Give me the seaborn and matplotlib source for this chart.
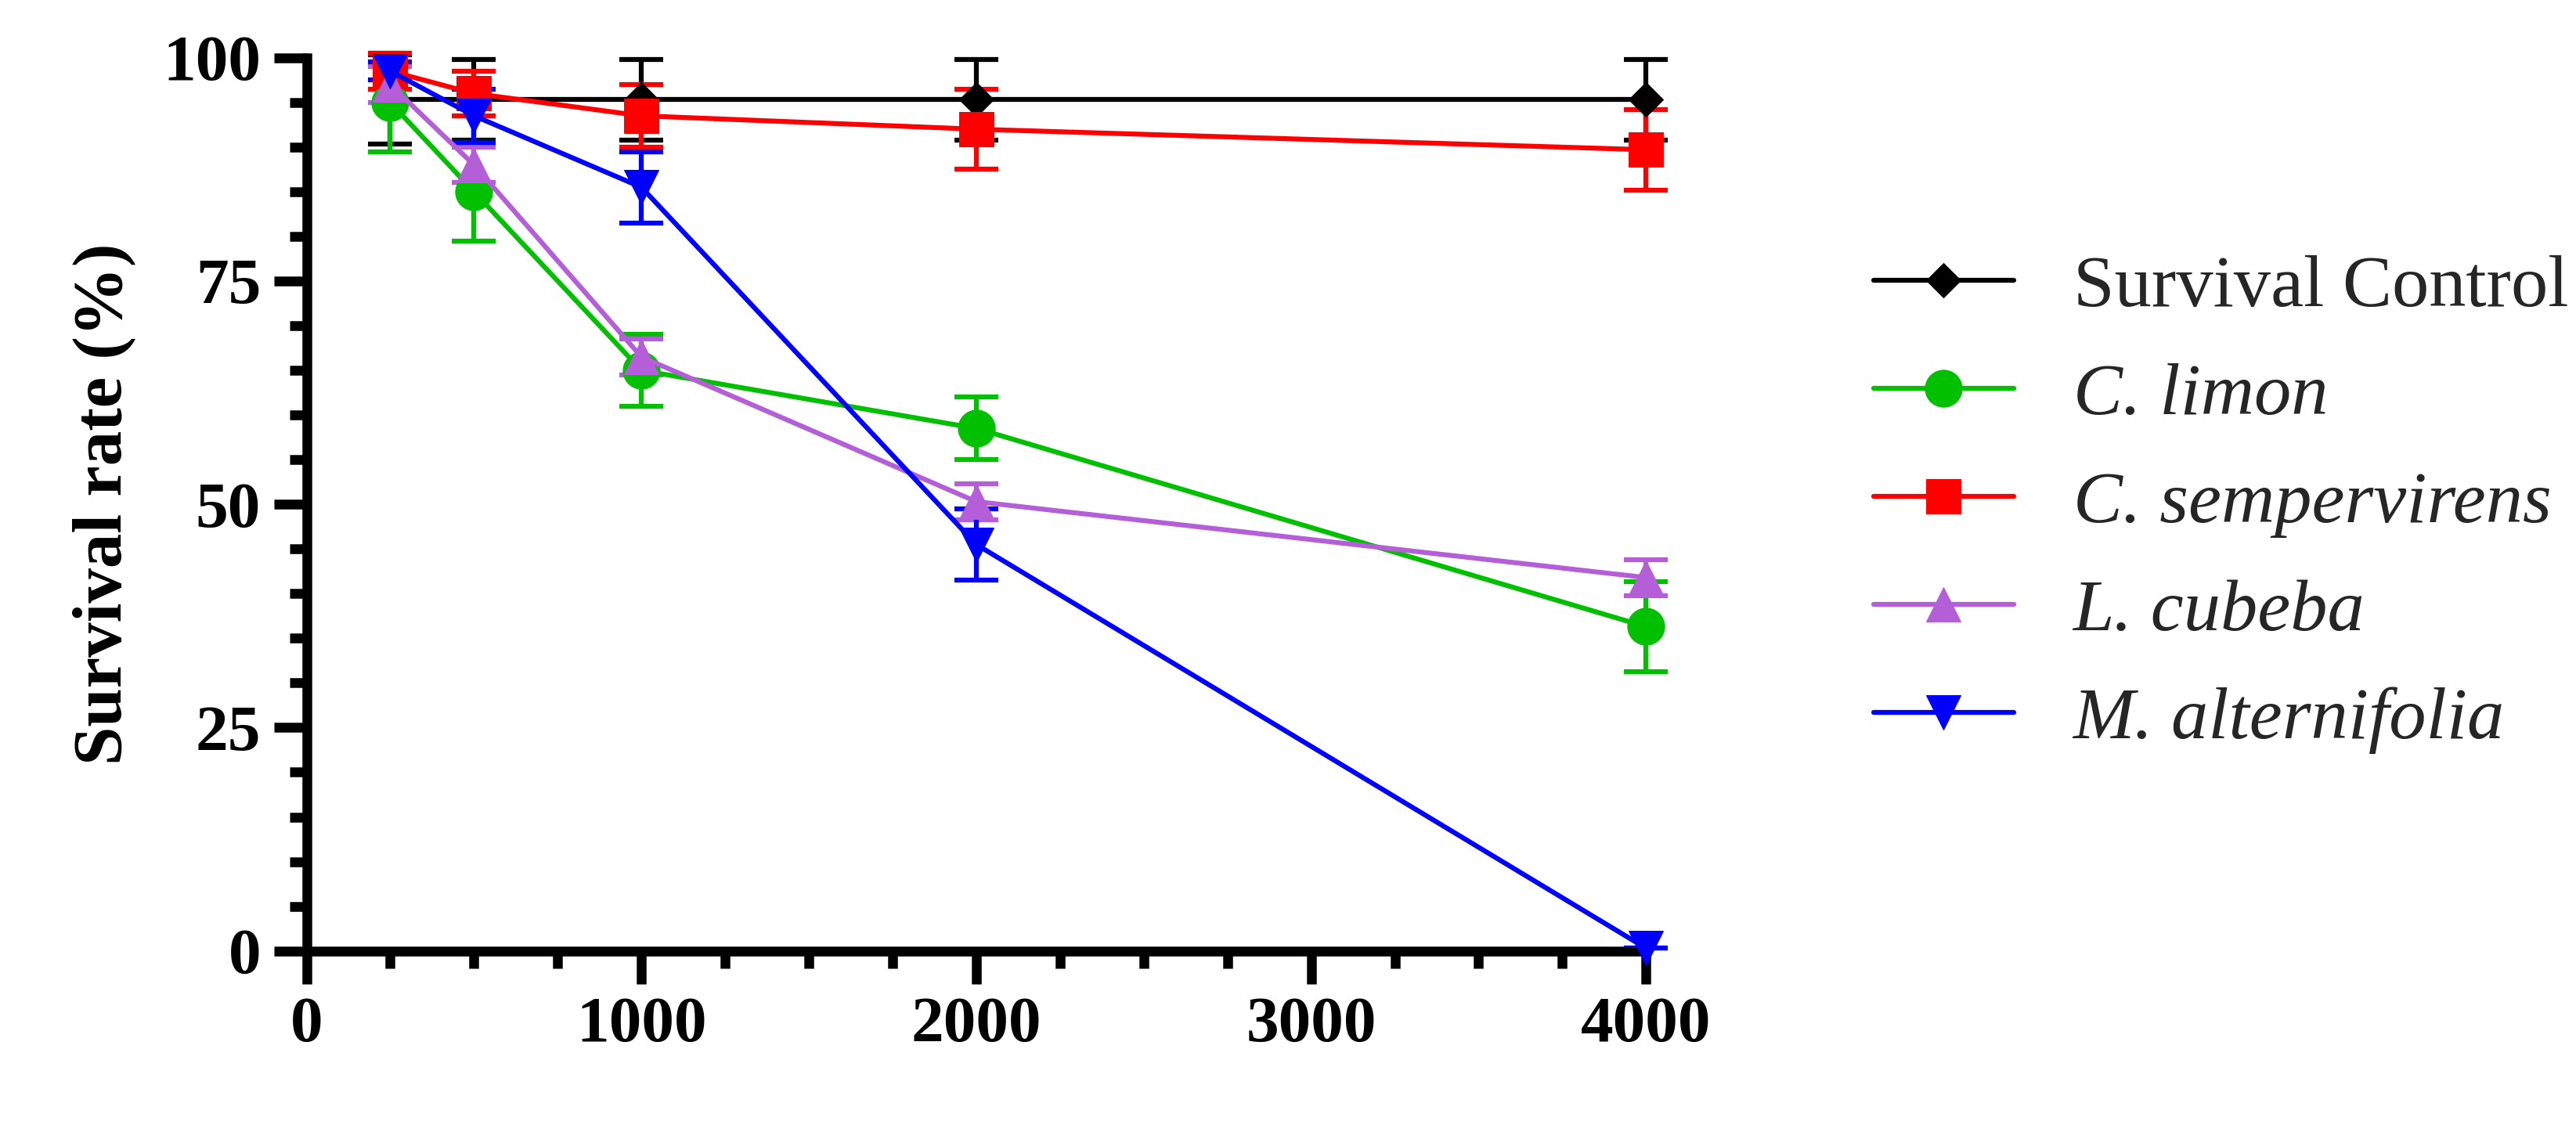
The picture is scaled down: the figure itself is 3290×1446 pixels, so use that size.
import matplotlib
matplotlib.use("Agg")
import matplotlib.pyplot as plt
import seaborn as sns
import pandas as pd
from matplotlib.ticker import MultipleLocator

sns.set_style("ticks")
plt.rcParams['font.family'] = ['Liberation Serif', 'DejaVu Serif']

conc = [250, 500, 1000, 2000, 4000]
series = ["Survival Control", "C. limon", "C. sempervirens", "L. cubeba", "M. alternifolia"]
control = [95.3, 95.3, 95.3, 95.3, 95.3]
control_err = [5, 4.5, 4.5, 4.5, 4.5]
limon = [95, 85, 65, 58.5, 36.3]
limon_err = [5.5, 5.5, 4, 3.5, 5]
semper = [98.5, 96, 93.5, 92, 89.7]
semper_err = [2, 2.5, 3.5, 4.5, 4.5]
cubeba = [97, 88, 66.5, 50.3, 41.8]
cubeba_err = [2, 2, 2, 2, 2]
malt = [98.5, 93.5, 85.5, 45.5, 0.3]
malt_err = [1, 3, 4, 4, 0]

vals = [control, limon, semper, cubeba, malt]
errs = [control_err, limon_err, semper_err, cubeba_err, malt_err]
colors = ["black", "#00c000", "red", "#b45ed8", "#0000ff"]
markers = ["D", "o", "s", "^", "v"]
msizes = [22, 34, 32, 32, 32]

df = pd.DataFrame([(s, c, v) for s, vs in zip(series, vals) for c, v in zip(conc, vs)],
                  columns=["series", "conc", "val"])

fig = plt.figure(figsize=(32.9, 14.46), dpi=100)
ax = fig.add_axes([0.119, 0.16, 0.52, 0.789])
for s, e, col, m, ms in zip(series, errs, colors, markers, msizes):
    d = df[df.series == s]
    ax.errorbar(d.conc, d.val, yerr=e, fmt="none", ecolor=col, elinewidth=4.5,
                capsize=20, capthick=4.5, clip_on=False, zorder=2)
    sns.lineplot(data=d, x="conc", y="val", color=col, marker=m, markersize=ms,
                 markeredgecolor=col, linewidth=4.5, ax=ax, label=s, clip_on=False, zorder=3)

ax.set_xlim(0, 4000)
ax.set_ylim(0, 100)
ax.set_xticks([0, 1000, 2000, 3000, 4000])
ax.set_yticks([0, 25, 50, 75, 100])
ax.xaxis.set_minor_locator(MultipleLocator(250))
ax.yaxis.set_minor_locator(MultipleLocator(5))
ax.tick_params(axis="both", which="major", length=30, width=9, labelsize=60, pad=12,
               color="black", labelcolor="black")
ax.tick_params(axis="both", which="minor", length=16, width=9, color="black")
for lab in ax.get_xticklabels() + ax.get_yticklabels():
    lab.set_fontweight("bold")
for sp in ["left", "bottom"]:
    ax.spines[sp].set_linewidth(9)
    ax.spines[sp].set_color("black")
sns.despine(ax=ax)
ax.set_xlabel("")
ax.set_ylabel("Survival rate (%)", fontsize=64, fontweight="bold", labelpad=25, color="black")

leg = ax.legend(loc="center left", bbox_to_anchor=(1.12, 0.5), frameon=False,
                fontsize=68, handlelength=1.9, labelspacing=0.55, handletextpad=0.8)
for i, t in enumerate(leg.get_texts()):
    if i > 0:
        t.set_fontstyle("italic")

fig.savefig("out.png", dpi=100)
